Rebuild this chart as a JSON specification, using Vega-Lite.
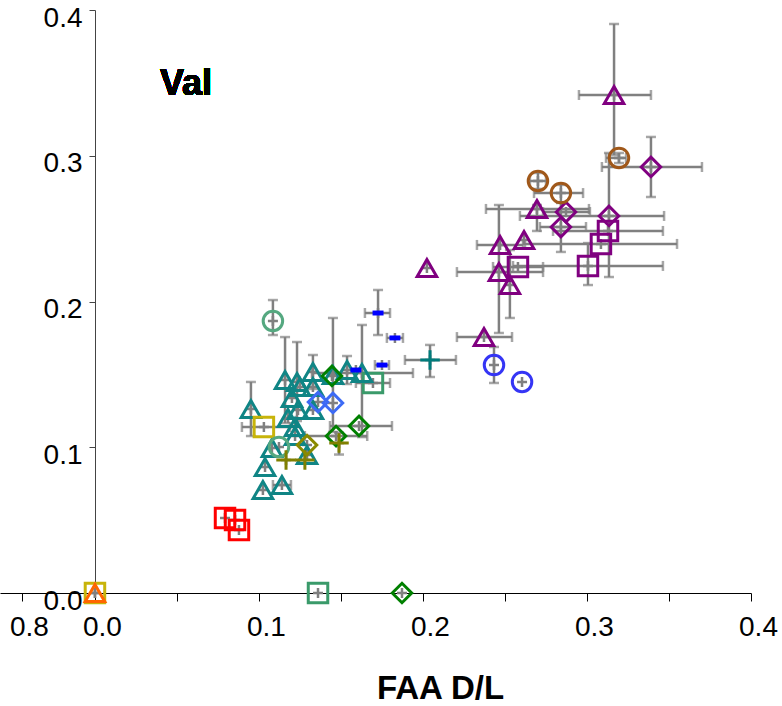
{
 "$schema": "https://vega.github.io/schema/vega-lite/v6.json",
 "width": 751, "height": 583,
 "autosize": "none",
 "padding": {"left": 0, "top": 10, "right": 31, "bottom": 113},
 "config": {"view": {"stroke": null}, "font": "Liberation Sans"},
 "data": {"values": [
  {"g":"pt","x":0.3165,"y":0.3417,"xl":0.2951,"xh":0.3390,"yl":0.3005,"yh":0.3904},
  {"g":"pt","x":0.2695,"y":0.2635,"xl":0.2384,"xh":0.3012,"yl":0.2484,"yh":0.2662},
  {"g":"pt","x":0.2470,"y":0.2388,"xl":0.2329,"xh":0.2610},
  {"g":"pt","x":0.2616,"y":0.2422},
  {"g":"pt","x":0.2463,"y":0.2202,"xl":0.2207,"xh":0.2732,"yl":0.1784,"yh":0.2662},
  {"g":"pt","x":0.2530,"y":0.2113,"yl":0.1887,"yh":0.2353},
  {"g":"pt","x":0.2024,"y":0.2230},
  {"g":"pt","x":0.2372,"y":0.1756,"xl":0.2207,"xh":0.2543},
  {"g":"pd","x":0.3390,"y":0.2923,"xl":0.3091,"xh":0.3701,"yl":0.2717,"yh":0.3129},
  {"g":"pd","x":0.3134,"y":0.2587,"xl":0.2591,"xh":0.3470,"yl":0.2168,"yh":0.3019},
  {"g":"pd","x":0.2872,"y":0.2614,"xl":0.2732,"xh":0.3018},
  {"g":"pd","x":0.2841,"y":0.2511,"xl":0.2713,"xh":0.2994,"yl":0.2340,"yh":0.2680},
  {"g":"ps","x":0.3128,"y":0.2484,"xl":0.2793,"xh":0.3463},
  {"g":"ps","x":0.3085,"y":0.2395,"xl":0.2622,"xh":0.3549},
  {"g":"ps","x":0.3006,"y":0.2244,"xl":0.2549,"xh":0.3463,"yl":0.2113,"yh":0.2401},
  {"g":"ps","x":0.2579,"y":0.2237,"xl":0.2427,"xh":0.2732},
  {"g":"bc","x":0.3195,"y":0.2985,"xl":0.3116,"xh":0.3238,"yl":0.2950,"yh":0.3019},
  {"g":"bc","x":0.2701,"y":0.2827,"xl":0.2652,"xh":0.2750,"yl":0.2772,"yh":0.2882},
  {"g":"bc","x":0.2841,"y":0.2744,"xl":0.2677,"xh":0.2976,"yl":0.2676,"yh":0.2800},
  {"g":"blc","x":0.2433,"y":0.1564,"yl":0.1441,"yh":0.1688},
  {"g":"blc","x":0.2604,"y":0.1448},
  {"g":"tp","x":0.2043,"y":0.1599,"xl":0.1890,"xh":0.2201,"yl":0.1482,"yh":0.1702},
  {"g":"bd","x":0.1726,"y":0.1921,"xl":0.1646,"xh":0.1799,"yl":0.1770,"yh":0.2079},
  {"g":"bd","x":0.1829,"y":0.1750,"xl":0.1780,"xh":0.1878},
  {"g":"bd","x":0.1750,"y":0.1564,"xl":0.1707,"xh":0.1793},
  {"g":"bd","x":0.1591,"y":0.1530},
  {"g":"sgs","x":0.1695,"y":0.1441,"xl":0.1591,"xh":0.1799},
  {"g":"sgs","x":0.1360,"y":0.0},
  {"g":"tt","x":0.1537,"y":0.1530,"yl":0.1434,"yh":0.1626},
  {"g":"tt","x":0.1628,"y":0.1509,"xl":0.1323,"xh":0.1939,"yl":0.1070,"yh":0.1839},
  {"g":"tt","x":0.1451,"y":0.1496,"yl":0.1105,"yh":0.1887},
  {"g":"tt","x":0.1329,"y":0.1516,"yl":0.1400,"yh":0.1633},
  {"g":"tt","x":0.1159,"y":0.1461,"yl":0.1166,"yh":0.1756},
  {"g":"tt","x":0.1232,"y":0.1448,"yl":0.1180,"yh":0.1722},
  {"g":"tt","x":0.1250,"y":0.1413},
  {"g":"tt","x":0.1329,"y":0.1413},
  {"g":"tt","x":0.1201,"y":0.1338},
  {"g":"tt","x":0.0951,"y":0.1262,"yl":0.1077,"yh":0.1448},
  {"g":"tt","x":0.1329,"y":0.1256},
  {"g":"tt","x":0.1238,"y":0.1256},
  {"g":"tt","x":0.1177,"y":0.1201},
  {"g":"tt","x":0.1220,"y":0.1139},
  {"g":"tt","x":0.1220,"y":0.1077},
  {"g":"tt","x":0.1079,"y":0.0995},
  {"g":"tt","x":0.1293,"y":0.0947},
  {"g":"tt","x":0.1037,"y":0.0864},
  {"g":"tt","x":0.1140,"y":0.0741,"xl":0.1085,"xh":0.1195},
  {"g":"tt","x":0.1024,"y":0.0707},
  {"g":"ys","x":0.1030,"y":0.1139,"xl":0.0896,"xh":0.1189},
  {"g":"ys","x":0.0,"y":0.0},
  {"g":"sgc","x":0.1085,"y":0.1866,"yl":0.1770,"yh":0.2010},
  {"g":"sgc","x":0.1122,"y":0.1002},
  {"g":"gd","x":0.1445,"y":0.1489},
  {"g":"gd","x":0.1610,"y":0.1146,"xl":0.1433,"xh":0.1811},
  {"g":"gd","x":0.1470,"y":0.1077,"xl":0.1280,"xh":0.1660},
  {"g":"gd","x":0.1872,"y":0.0},
  {"g":"bld","x":0.1360,"y":0.1310},
  {"g":"bld","x":0.1451,"y":0.1304},
  {"g":"op","x":0.1488,"y":0.1029,"yl":0.0950,"yh":0.1100},
  {"g":"op","x":0.1165,"y":0.0913},
  {"g":"op","x":0.1280,"y":0.0913},
  {"g":"od","x":0.1293,"y":0.1015},
  {"g":"rs","x":0.0793,"y":0.0515},
  {"g":"rs","x":0.0854,"y":0.0501},
  {"g":"rs","x":0.0878,"y":0.0432},
  {"g":"ot","x":0.0,"y":0.0}
 ]},
 "layer": [
  {"mark":{"type":"point","filled":false,"opacity":0,"size":1},
   "encoding":{
    "x":{"field":"x","type":"quantitative","scale":{"domain":[-0.0579,0.4],"nice":false,"zero":false},
     "axis":{"values":[-0.0445,0,0.05,0.1,0.15,0.2,0.25,0.3,0.35,0.4],
      "labelExpr":"datum.value < -0.01 ? '0.8' : (abs(datum.value*10 - round(datum.value*10)) < 0.001 ? format(datum.value, '.1f') : '')",
      "title":"FAA D/L","titleFont":"Liberation Sans","titleFontSize":33,"titleFontWeight":"bold","titleColor":"#000",
      "titleX":440,"titleY":105,"titleBaseline":"alphabetic","titleAlign":"center",
      "labelFont":"Liberation Sans","labelFontSize":28,"labelOffset":7,"labelPadding":12,"labelBaseline":"top","labelColor":"#000",
      "tickSize":8,"tickColor":"#000","domainColor":"#000","grid":false,"labelFlush":false,"labelOverlap":false}},
    "y":{"field":"y","type":"quantitative","scale":{"domain":[0,0.4],"nice":false,"zero":false},
     "axis":{"values":[0,0.1,0.2,0.3,0.4],"format":".1f","title":null,"offset":-95,
      "labelFont":"Liberation Sans","labelFontSize":28,"labelOffset":8,"labelPadding":7,"labelColor":"#000",
      "tickSize":6,"tickColor":"#444","domainColor":"#444","grid":false,"labelFlush":false,"labelOverlap":false}}}},
  {"transform":[{"filter":"isValid(datum.xl)"}],
   "mark":{"type":"rule","color":"#808080","strokeWidth":2.5},
   "encoding":{"x":{"field":"xl","type":"quantitative","scale":{"domain":[-0.0579,0.4],"nice":false,"zero":false}},
    "x2":{"field":"xh"},
    "y":{"field":"y","type":"quantitative","scale":{"domain":[0,0.4],"nice":false,"zero":false}}}},
  {"transform":[{"filter":"isValid(datum.yl)"}],
   "mark":{"type":"rule","color":"#808080","strokeWidth":2.5},
   "encoding":{"x":{"field":"x","type":"quantitative","scale":{"domain":[-0.0579,0.4],"nice":false,"zero":false}},
    "y":{"field":"yl","type":"quantitative","scale":{"domain":[0,0.4],"nice":false,"zero":false}},
    "y2":{"field":"yh"}}},
  {"transform":[{"filter":"isValid(datum.xl)"}],
   "mark":{"type":"tick","orient":"vertical","color":"#808080","size":10,"thickness":2.5},
   "encoding":{"x":{"field":"xl","type":"quantitative","scale":{"domain":[-0.0579,0.4],"nice":false,"zero":false}},
    "y":{"field":"y","type":"quantitative","scale":{"domain":[0,0.4],"nice":false,"zero":false}}}},
  {"transform":[{"filter":"isValid(datum.xh)"}],
   "mark":{"type":"tick","orient":"vertical","color":"#808080","size":10,"thickness":2.5},
   "encoding":{"x":{"field":"xh","type":"quantitative","scale":{"domain":[-0.0579,0.4],"nice":false,"zero":false}},
    "y":{"field":"y","type":"quantitative","scale":{"domain":[0,0.4],"nice":false,"zero":false}}}},
  {"transform":[{"filter":"isValid(datum.yl)"}],
   "mark":{"type":"tick","orient":"horizontal","color":"#808080","size":10,"thickness":2.5},
   "encoding":{"x":{"field":"x","type":"quantitative","scale":{"domain":[-0.0579,0.4],"nice":false,"zero":false}},
    "y":{"field":"yl","type":"quantitative","scale":{"domain":[0,0.4],"nice":false,"zero":false}}}},
  {"transform":[{"filter":"isValid(datum.yh)"}],
   "mark":{"type":"tick","orient":"horizontal","color":"#808080","size":10,"thickness":2.5},
   "encoding":{"x":{"field":"x","type":"quantitative","scale":{"domain":[-0.0579,0.4],"nice":false,"zero":false}},
    "y":{"field":"yh","type":"quantitative","scale":{"domain":[0,0.4],"nice":false,"zero":false}}}},
  {"mark":{"type":"point","shape":"M-1,0H1M0,-1V1","filled":false,"stroke":"#808080","strokeWidth":2.5,"size":100,"opacity":1},
   "encoding":{"x":{"field":"x","type":"quantitative","scale":{"domain":[-0.0579,0.4],"nice":false,"zero":false}},
    "y":{"field":"y","type":"quantitative","scale":{"domain":[0,0.4],"nice":false,"zero":false}}}},
  {"transform":[{"filter":"datum.g != 'bd'"}],
   "mark":{"type":"point","filled":false,"strokeWidth":3,"size":380,"opacity":1},
   "encoding":{
    "x":{"field":"x","type":"quantitative","scale":{"domain":[-0.0579,0.4],"nice":false,"zero":false}},
    "y":{"field":"y","type":"quantitative","scale":{"domain":[0,0.4],"nice":false,"zero":false}},
    "color":{"field":"g","type":"nominal","legend":null,
     "scale":{"domain":["pt","pd","ps","bc","blc","tp","sgs","tt","ys","sgc","gd","bld","op","od","rs","ot"],
      "range":["#800080","#800080","#800080","#a0581a","#3535f5","#007b7b","#3a9a6a","#108585","#c8b40a","#55a880","#008000","#3d6bf5","#808000","#8a8a00","#ff0000","#ff6600"]}},
    "shape":{"field":"g","type":"nominal","legend":null,
     "scale":{"domain":["pt","pd","ps","bc","blc","tp","sgs","tt","ys","sgc","gd","bld","op","od","rs","ot"],
      "range":["triangle-up","diamond","square","circle","circle","M-1,0H1M0,-1V1","square","triangle-up","square","circle","diamond","diamond","M-1,0H1M0,-1V1","diamond","square","triangle-up"]}}}},
  {"transform":[{"filter":"datum.g == 'bd'"}],
   "mark":{"type":"point","filled":true,"shape":"M-1,-0.45H1V0.45H-1Z","color":"#0000ff","size":121,"opacity":1},
   "encoding":{"x":{"field":"x","type":"quantitative","scale":{"domain":[-0.0579,0.4],"nice":false,"zero":false}},
    "y":{"field":"y","type":"quantitative","scale":{"domain":[0,0.4],"nice":false,"zero":false}}}},
  {"mark":{"type":"text","text":"Val","font":"Liberation Sans","fontSize":36,"fontWeight":"bold","align":"left","baseline":"alphabetic","color":"#000"},
   "encoding":{"x":{"datum":0.0396,"type":"quantitative","scale":{"domain":[-0.0579,0.4],"nice":false,"zero":false}},
    "y":{"datum":0.3417,"type":"quantitative","scale":{"domain":[0,0.4],"nice":false,"zero":false}}}}
 ]
}
